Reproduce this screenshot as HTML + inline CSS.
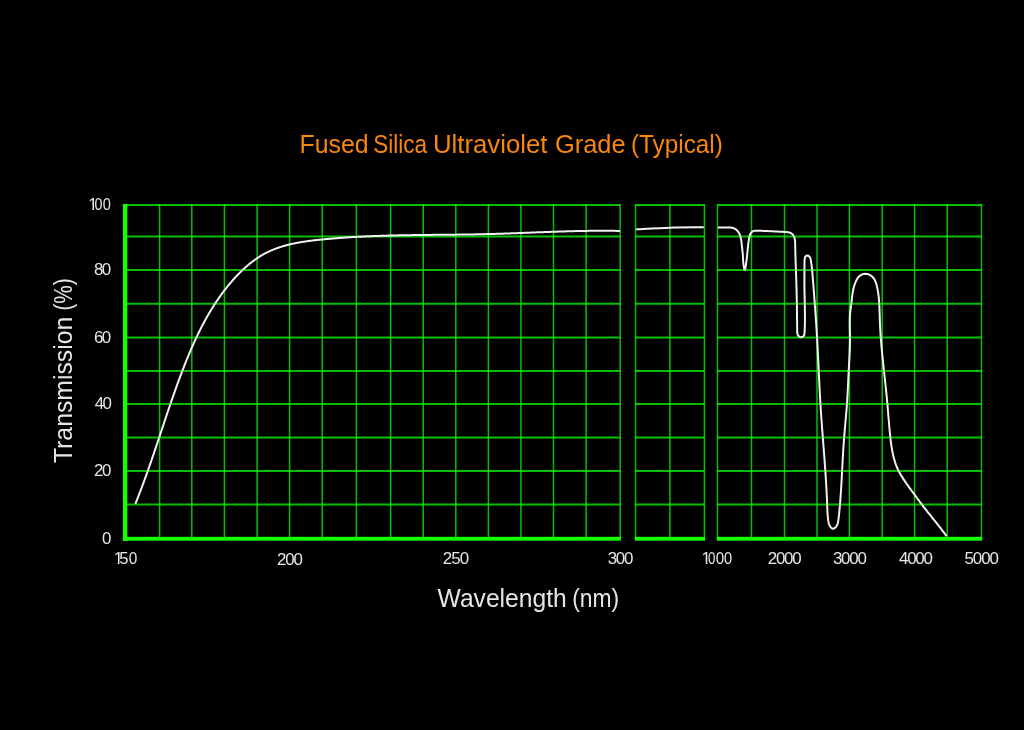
<!DOCTYPE html>
<html><head><meta charset="utf-8"><title>Fused Silica Ultraviolet Grade (Typical)</title>
<style>
html,body{margin:0;padding:0;background:#000;}
body{width:1024px;height:730px;overflow:hidden;}
svg{display:block;will-change:transform;}
text{font-family:"Liberation Sans",sans-serif;}
</style></head><body>
<svg width="1024" height="730" viewBox="0 0 1024 730">
<rect width="1024" height="730" fill="#000"/>
<path d="M125.10,204.90H620.20M125.10,236.60H620.20M125.10,270.10H620.20M125.10,303.70H620.20M125.10,337.40H620.20M125.10,370.90H620.20M125.10,403.90H620.20M125.10,437.40H620.20M125.10,471.00H620.20M125.10,504.50H620.20M635.50,204.90H704.40M635.50,236.60H704.40M635.50,270.10H704.40M635.50,303.70H704.40M635.50,337.40H704.40M635.50,370.90H704.40M635.50,403.90H704.40M635.50,437.40H704.40M635.50,471.00H704.40M635.50,504.50H704.40M717.50,204.90H981.50M717.50,236.60H981.50M717.50,270.10H981.50M717.50,303.70H981.50M717.50,337.40H981.50M717.50,370.90H981.50M717.50,403.90H981.50M717.50,437.40H981.50M717.50,471.00H981.50M717.50,504.50H981.50" stroke="#0aff00" stroke-opacity="0.75" stroke-width="2.00" fill="none"/>
<path d="M159.60,203.90V537.80M191.80,203.90V537.80M224.40,203.90V537.80M257.10,203.90V537.80M289.60,203.90V537.80M322.30,203.90V537.80M356.40,203.90V537.80M390.60,203.90V537.80M423.20,203.90V537.80M455.80,203.90V537.80M488.40,203.90V537.80M520.90,203.90V537.80M553.50,203.90V537.80M586.10,203.90V537.80M620.20,203.90V537.80M635.50,203.90V537.80M669.90,203.90V537.80M704.40,203.90V537.80M717.50,203.90V537.80M751.50,203.90V537.80M784.50,203.90V537.80M817.00,203.90V537.80M849.40,203.90V537.80M882.20,203.90V537.80M914.60,203.90V537.80M947.20,203.90V537.80M981.50,203.90V537.80" stroke="#0aff00" stroke-opacity="0.75" stroke-width="1.50" fill="none"/>
<rect x="122.9" y="203.9" width="4.4" height="336.8" fill="#16ff00"/>
<rect x="122.9" y="536.8" width="498.0" height="3.9" fill="#16ff00"/>
<rect x="634.8" y="536.8" width="70.3" height="3.9" fill="#16ff00"/>
<rect x="716.8" y="536.8" width="265.4" height="3.9" fill="#16ff00"/>
<path d="M135.34,503.92 135.71,502.99 136.09,502.05 136.46,501.12 136.83,500.19 137.20,499.26 137.57,498.32 137.94,497.39 138.31,496.45 138.67,495.52 139.03,494.58 139.40,493.65 139.76,492.71 140.12,491.77 140.47,490.84 140.83,489.90 141.18,488.96 141.54,488.03 141.89,487.09 142.24,486.15 142.59,485.21 142.94,484.27 143.29,483.33 143.64,482.39 143.98,481.45 144.33,480.51 144.67,479.57 145.01,478.63 145.35,477.69 145.69,476.75 146.03,475.81 146.37,474.87 146.71,473.93 147.04,472.99 147.38,472.04 147.71,471.10 148.05,470.16 148.38,469.22 148.71,468.27 149.04,467.33 149.37,466.39 149.70,465.44 150.03,464.50 150.36,463.55 150.68,462.61 151.01,461.67 151.34,460.72 151.66,459.78 151.99,458.83 152.31,457.89 152.63,456.94 152.96,456.00 153.28,455.05 153.60,454.11 153.92,453.16 154.24,452.21 154.56,451.27 154.88,450.32 155.20,449.38 155.52,448.43 155.84,447.48 156.16,446.54 156.47,445.59 156.79,444.65 157.11,443.70 157.42,442.75 157.74,441.81 158.06,440.86 158.37,439.91 158.69,438.97 159.01,438.02 159.32,437.07 159.64,436.13 159.95,435.18 160.27,434.23 160.58,433.29 160.90,432.34 161.21,431.39 161.53,430.45 161.84,429.50 162.16,428.55 162.47,427.61 162.79,426.66 163.10,425.71 163.42,424.77 163.73,423.82 164.05,422.87 164.37,421.93 164.68,420.98 165.00,420.03 165.31,419.09 165.63,418.14 165.95,417.20 166.27,416.25 166.58,415.30 166.90,414.36 167.22,413.41 167.54,412.47 167.86,411.52 168.18,410.58 168.50,409.63 168.82,408.69 169.14,407.74 169.46,406.80 169.78,405.85 170.10,404.91 170.43,403.97 170.75,403.02 171.08,402.08 171.40,401.13 171.73,400.19 172.05,399.25 172.38,398.31 172.71,397.36 173.04,396.42 173.37,395.48 173.70,394.54 174.03,393.59 174.36,392.65 174.69,391.71 175.02,390.77 175.36,389.83 175.69,388.89 176.03,387.95 176.37,387.01 176.70,386.07 177.04,385.13 177.38,384.19 177.72,383.25 178.07,382.31 178.41,381.37 178.75,380.44 179.10,379.50 179.44,378.56 179.79,377.62 180.14,376.69 180.49,375.75 180.84,374.81 181.19,373.88 181.55,372.94 181.90,372.01 182.26,371.07 182.62,370.14 182.98,369.21 183.34,368.27 183.70,367.34 184.06,366.41 184.43,365.47 184.79,364.54 185.16,363.61 185.53,362.68 185.90,361.75 186.27,360.82 186.65,359.89 187.02,358.97 187.40,358.04 187.78,357.11 188.16,356.19 188.54,355.26 188.93,354.34 189.31,353.41 189.70,352.49 190.09,351.57 190.49,350.65 190.88,349.73 191.28,348.81 191.68,347.89 192.08,346.98 192.48,346.06 192.89,345.14 193.29,344.23 193.70,343.32 194.11,342.41 194.53,341.50 194.95,340.59 195.36,339.68 195.79,338.77 196.21,337.86 196.64,336.96 197.06,336.06 197.50,335.16 197.93,334.25 198.37,333.36 198.81,332.46 199.25,331.56 199.69,330.67 200.14,329.77 200.59,328.88 201.04,327.99 201.50,327.10 201.96,326.21 202.42,325.33 202.88,324.44 203.35,323.56 203.82,322.68 204.29,321.80 204.77,320.92 205.25,320.05 205.73,319.17 206.22,318.30 206.70,317.43 207.20,316.56 207.69,315.69 208.19,314.83 208.69,313.96 209.20,313.10 209.71,312.24 210.22,311.39 210.73,310.53 211.25,309.68 211.77,308.83 212.30,307.98 212.83,307.13 213.36,306.29 213.90,305.44 214.44,304.60 214.98,303.76 215.53,302.93 216.08,302.09 216.64,301.26 217.19,300.43 217.76,299.60 218.32,298.78 218.89,297.96 219.47,297.14 220.05,296.32 220.63,295.50 221.22,294.69 221.81,293.88 222.40,293.07 223.00,292.27 223.60,291.47 224.21,290.67 224.82,289.87 225.44,289.07 226.06,288.28 226.68,287.49 227.31,286.70 227.94,285.92 228.58,285.14 229.22,284.36 229.87,283.59 230.52,282.81 231.18,282.04 231.83,281.28 232.50,280.51 233.17,279.75 233.84,279.00 234.52,278.25 235.20,277.50 235.89,276.76 236.58,276.02 237.28,275.28 237.98,274.55 238.68,273.83 239.39,273.11 240.11,272.39 240.83,271.68 241.55,270.98 242.28,270.28 243.01,269.59 243.75,268.90 244.49,268.22 245.24,267.55 245.99,266.88 246.75,266.22 247.51,265.57 248.27,264.92 249.04,264.28 249.82,263.65 250.60,263.03 251.38,262.41 252.17,261.80 252.96,261.20 253.76,260.61 254.57,260.02 255.37,259.45 256.19,258.88 257.00,258.32 257.83,257.77 258.65,257.23 259.48,256.70 260.32,256.18 261.16,255.66 262.01,255.16 262.86,254.67 263.71,254.18 264.57,253.71 265.44,253.25 266.31,252.80 267.18,252.36 268.06,251.93 268.95,251.50 269.84,251.09 270.73,250.69 271.63,250.30 272.53,249.92 273.43,249.55 274.34,249.18 275.26,248.83 276.18,248.48 277.10,248.15 278.02,247.82 278.95,247.50 279.88,247.19 280.82,246.89 281.76,246.59 282.70,246.31 283.65,246.03 284.60,245.75 285.55,245.49 286.50,245.23 287.46,244.98 288.42,244.74 289.39,244.50 290.35,244.27 291.32,244.05 292.29,243.83 293.26,243.62 294.24,243.42 295.22,243.22 296.20,243.02 297.18,242.83 298.16,242.65 299.15,242.47 300.14,242.30 301.13,242.13 302.12,241.97 303.11,241.81 304.11,241.66 305.10,241.51 306.10,241.37 307.10,241.22 308.09,241.09 309.09,240.95 310.10,240.82 311.10,240.70 312.10,240.57 313.10,240.45 314.11,240.33 315.11,240.22 316.12,240.11 317.12,240.00 318.13,239.89 319.13,239.78 320.14,239.68 321.14,239.58 322.15,239.48 323.15,239.38 324.16,239.28 325.16,239.18 326.17,239.09 327.17,239.00 328.18,238.91 329.18,238.82 330.19,238.73 331.19,238.64 332.20,238.56 333.20,238.47 334.20,238.39 335.21,238.31 336.21,238.23 337.21,238.15 338.22,238.07 339.22,238.00 340.22,237.92 341.23,237.85 342.23,237.77 343.23,237.70 344.23,237.63 345.24,237.57 346.24,237.50 347.24,237.43 348.24,237.37 349.24,237.30 350.25,237.24 351.25,237.18 352.25,237.12 353.25,237.06 354.25,237.00 355.25,236.95 356.25,236.89 357.25,236.84 358.25,236.78 359.26,236.73 360.26,236.68 361.26,236.63 362.26,236.58 363.26,236.53 364.26,236.48 365.26,236.44 366.26,236.39 367.26,236.35 368.26,236.30 369.26,236.26 370.26,236.22 371.26,236.18 372.26,236.14 373.26,236.10 374.25,236.06 375.25,236.02 376.25,235.99 377.25,235.95 378.25,235.92 379.25,235.88 380.25,235.85 381.25,235.82 382.25,235.79 383.24,235.76 384.24,235.72 385.24,235.70 386.24,235.67 387.24,235.64 388.24,235.61 389.24,235.58 390.23,235.56 391.23,235.53 392.23,235.51 393.23,235.48 394.23,235.46 395.22,235.44 396.22,235.41 397.22,235.39 398.22,235.37 399.21,235.35 400.21,235.33 401.21,235.31 402.21,235.29 403.20,235.27 404.20,235.25 405.20,235.24 406.20,235.22 407.19,235.20 408.19,235.19 409.19,235.17 410.19,235.15 411.18,235.14 412.18,235.12 413.18,235.11 414.18,235.09 415.17,235.08 416.17,235.07 417.17,235.05 418.16,235.04 419.16,235.03 420.16,235.02 421.15,235.00 422.15,234.99 423.15,234.98 424.15,234.97 425.14,234.96 426.14,234.95 427.14,234.93 428.13,234.92 429.13,234.91 430.13,234.90 431.12,234.89 432.12,234.88 433.12,234.87 434.11,234.86 435.11,234.85 436.11,234.84 437.11,234.83 438.10,234.82 439.10,234.81 440.10,234.80 441.09,234.79 442.09,234.78 443.09,234.77 444.08,234.76 445.08,234.75 446.08,234.74 447.08,234.73 448.07,234.72 449.07,234.71 450.07,234.70 451.06,234.69 452.06,234.68 453.06,234.67 454.06,234.66 455.05,234.64 456.05,234.63 457.05,234.62 458.05,234.61 459.04,234.60 460.04,234.58 461.04,234.57 462.04,234.56 463.03,234.55 464.03,234.53 465.03,234.52 466.03,234.50 467.02,234.49 468.02,234.47 469.02,234.46 470.02,234.44 471.02,234.43 472.01,234.41 473.01,234.39 474.01,234.38 475.01,234.36 476.01,234.34 477.01,234.32 478.00,234.30 479.00,234.28 480.00,234.26 481.00,234.24 482.00,234.22 483.00,234.20 484.00,234.17 485.00,234.15 485.99,234.13 486.99,234.10 487.99,234.08 488.99,234.05 489.99,234.03 490.99,234.00 491.99,233.97 492.99,233.95 493.99,233.92 494.99,233.89 495.99,233.86 496.99,233.83 497.99,233.80 498.99,233.77 499.99,233.73 500.99,233.70 501.99,233.67 502.99,233.64 503.99,233.60 504.99,233.57 505.99,233.54 506.99,233.50 507.99,233.47 508.99,233.43 509.99,233.40 510.99,233.36 511.99,233.32 513.00,233.29 514.00,233.25 515.00,233.21 516.00,233.18 517.00,233.14 518.00,233.10 519.00,233.06 520.00,233.02 521.00,232.99 522.00,232.95 523.01,232.91 524.01,232.87 525.01,232.83 526.01,232.79 527.01,232.75 528.01,232.72 529.01,232.68 530.01,232.64 531.02,232.60 532.02,232.56 533.02,232.52 534.02,232.48 535.02,232.44 536.02,232.40 537.02,232.37 538.02,232.33 539.03,232.29 540.03,232.25 541.03,232.21 542.03,232.17 543.03,232.14 544.03,232.10 545.03,232.06 546.04,232.02 547.04,231.99 548.04,231.95 549.04,231.91 550.04,231.88 551.04,231.84 552.04,231.81 553.04,231.77 554.04,231.74 555.05,231.70 556.05,231.67 557.05,231.63 558.05,231.60 559.05,231.57 560.05,231.53 561.05,231.50 562.05,231.47 563.05,231.44 564.05,231.41 565.05,231.38 566.06,231.35 567.06,231.32 568.06,231.29 569.06,231.26 570.06,231.24 571.06,231.21 572.06,231.18 573.06,231.16 574.06,231.13 575.06,231.11 576.06,231.09 577.06,231.06 578.06,231.04 579.06,231.02 580.06,231.00 581.06,230.98 582.06,230.96 583.06,230.94 584.06,230.92 585.06,230.91 586.06,230.89 587.06,230.88 588.06,230.86 589.06,230.85 590.05,230.84 591.05,230.82 592.05,230.81 593.05,230.80 594.05,230.80 595.05,230.79 596.05,230.78 597.05,230.78 598.04,230.77 599.04,230.77 600.04,230.76 601.04,230.76 602.04,230.76 603.03,230.76 604.03,230.77 605.03,230.77 606.03,230.77 607.02,230.78 608.02,230.78 609.02,230.79 610.02,230.80 611.01,230.81 612.01,230.82 613.01,230.83 614.00,230.85 615.00,230.86 616.00,230.88 616.99,230.90 617.99,230.91 618.98,230.93 619.98,230.96" stroke="#f2f2f2" stroke-width="2" fill="none" stroke-linejoin="round"/>
<path d="M636.10,229.30 C641.72,229.03 658.52,227.99 669.80,227.66 C681.08,227.33 698.13,227.36 703.80,227.30" stroke="#f2f2f2" stroke-width="2" fill="none" stroke-linejoin="round"/>
<path d="M718.00,227.50 719.03,227.56 720.05,227.59 721.05,227.60 722.04,227.58 723.03,227.54 724.00,227.50 724.98,227.46 725.96,227.42 726.94,227.40 727.93,227.40 728.94,227.43 729.96,227.50 730.99,227.60 732.02,227.76 733.03,228.00 733.99,228.33 734.89,228.75 735.72,229.27 736.48,229.88 737.18,230.56 737.82,231.30 738.40,232.11 738.93,232.97 739.40,233.86 739.81,234.79 740.18,235.74 740.49,236.71 740.75,237.68 740.97,238.66 741.16,239.64 741.31,240.62 741.44,241.60 741.55,242.59 741.65,243.59 741.75,244.59 741.86,245.60 741.97,246.62 742.08,247.65 742.19,248.67 742.30,249.69 742.41,250.71 742.52,251.72 742.62,252.71 742.71,253.69 742.79,254.65 742.86,255.59 742.92,256.50 742.97,257.39 743.00,258.28 743.04,259.17 743.09,260.09 743.15,261.06 743.23,262.07 743.34,263.16 743.48,264.34 743.66,265.62 743.88,266.96 744.13,268.20 744.39,269.20 744.66,269.78 744.92,269.81 745.17,269.26 745.40,268.29 745.62,267.06 745.82,265.72 746.00,264.43 746.16,263.24 746.31,262.14 746.44,261.12 746.57,260.15 746.68,259.22 746.79,258.33 746.89,257.44 746.98,256.56 747.07,255.66 747.17,254.73 747.26,253.79 747.35,252.83 747.44,251.85 747.54,250.86 747.64,249.86 747.74,248.85 747.84,247.83 747.95,246.81 748.06,245.78 748.19,244.75 748.31,243.73 748.45,242.70 748.59,241.68 748.74,240.67 748.90,239.67 749.08,238.68 749.26,237.70 749.46,236.73 749.68,235.79 749.97,234.87 750.34,233.97 750.84,233.11 751.49,232.29 752.26,231.60 753.13,231.12 754.09,230.85 755.08,230.73 756.09,230.69 757.10,230.69 758.11,230.71 759.11,230.74 760.11,230.77 761.11,230.81 762.11,230.84 763.11,230.88 764.11,230.92 765.11,230.96 766.10,231.01 767.10,231.05 768.10,231.10 769.09,231.15 770.09,231.20 771.08,231.25 772.08,231.30 773.07,231.35 774.07,231.41 775.06,231.46 776.06,231.51 777.06,231.56 778.06,231.62 779.06,231.67 780.06,231.72 781.06,231.77 782.07,231.82 783.07,231.87 784.08,231.92 785.09,231.97 786.09,232.03 787.09,232.12 788.08,232.26 789.04,232.47 789.98,232.77 790.89,233.18 791.74,233.71 792.50,234.36 793.14,235.12 793.66,235.97 794.09,236.89 794.43,237.85 794.69,238.84 794.88,239.83 795.01,240.82 795.10,241.81 795.15,242.81 795.18,243.80 795.20,244.80 795.22,245.80 795.23,246.79 795.25,247.79 795.27,248.79 795.29,249.79 795.32,250.78 795.34,251.78 795.37,252.78 795.39,253.78 795.42,254.78 795.45,255.78 795.48,256.78 795.51,257.78 795.54,258.78 795.57,259.78 795.60,260.78 795.63,261.78 795.67,262.78 795.70,263.78 795.73,264.78 795.77,265.78 795.80,266.78 795.84,267.79 795.87,268.79 795.91,269.79 795.95,270.79 795.98,271.79 796.02,272.79 796.05,273.79 796.09,274.79 796.12,275.79 796.16,276.79 796.19,277.79 796.22,278.79 796.26,279.79 796.29,280.79 796.32,281.79 796.35,282.79 796.39,283.79 796.42,284.79 796.45,285.79 796.47,286.79 796.50,287.78 796.53,288.78 796.56,289.78 796.58,290.78 796.61,291.78 796.63,292.77 796.65,293.77 796.68,294.77 796.70,295.76 796.72,296.76 796.74,297.76 796.76,298.76 796.78,299.75 796.80,300.75 796.82,301.75 796.84,302.74 796.85,303.74 796.87,304.74 796.89,305.74 796.90,306.73 796.92,307.73 796.93,308.73 796.95,309.73 796.96,310.73 796.98,311.73 796.99,312.73 797.00,313.73 797.02,314.73 797.03,315.73 797.04,316.73 797.05,317.73 797.06,318.73 797.08,319.73 797.09,320.74 797.10,321.74 797.11,322.74 797.12,323.75 797.13,324.75 797.14,325.76 797.15,326.76 797.16,327.77 797.17,328.78 797.18,329.79 797.19,330.80 797.20,331.80 797.25,332.80 797.40,333.77 797.69,334.71 798.18,335.58 798.89,336.37 799.79,336.94 800.80,337.20 801.87,337.06 802.86,336.60 803.65,335.91 804.14,335.07 804.40,334.12 804.51,333.12 804.57,332.10 804.63,331.08 804.68,330.06 804.72,329.05 804.76,328.04 804.79,327.02 804.83,326.01 804.85,325.01 804.88,324.00 804.90,323.00 804.91,321.99 804.93,320.99 804.94,319.99 804.94,319.00 804.95,318.00 804.95,317.00 804.95,316.01 804.94,315.01 804.94,314.02 804.93,313.03 804.92,312.03 804.91,311.04 804.89,310.05 804.88,309.06 804.86,308.07 804.84,307.08 804.82,306.09 804.80,305.09 804.78,304.10 804.76,303.11 804.74,302.12 804.71,301.13 804.69,300.14 804.67,299.14 804.64,298.15 804.62,297.15 804.60,296.16 804.58,295.16 804.56,294.17 804.54,293.17 804.52,292.17 804.50,291.16 804.48,290.16 804.46,289.16 804.45,288.15 804.44,287.14 804.43,286.13 804.42,285.12 804.41,284.11 804.41,283.09 804.41,282.08 804.41,281.06 804.41,280.05 804.41,279.03 804.41,278.02 804.41,277.02 804.42,276.01 804.43,275.01 804.43,274.02 804.44,273.03 804.44,272.05 804.45,271.08 804.46,270.11 804.46,269.15 804.47,268.20 804.47,267.25 804.48,266.28 804.49,265.30 804.50,264.31 804.52,263.28 804.54,262.23 804.56,261.14 804.59,260.01 804.68,258.90 804.88,257.85 805.23,256.93 805.78,256.18 806.57,255.68 807.48,255.54 808.42,255.83 809.25,256.44 809.88,257.24 810.31,258.14 810.60,259.13 810.80,260.15 810.97,261.17 811.13,262.19 811.28,263.19 811.42,264.19 811.55,265.18 811.67,266.17 811.79,267.15 811.89,268.14 812.00,269.12 812.10,270.10 812.19,271.09 812.29,272.07 812.38,273.06 812.47,274.05 812.55,275.05 812.64,276.04 812.72,277.03 812.80,278.03 812.88,279.03 812.96,280.02 813.04,281.02 813.12,282.02 813.19,283.02 813.27,284.02 813.34,285.01 813.42,286.01 813.50,287.01 813.57,288.01 813.65,289.01 813.73,290.01 813.80,291.01 813.88,292.00 813.95,293.00 814.03,294.00 814.11,295.00 814.18,296.00 814.26,296.99 814.33,297.99 814.41,298.99 814.48,299.99 814.56,300.98 814.63,301.98 814.71,302.98 814.78,303.98 814.86,304.97 814.93,305.97 815.01,306.97 815.08,307.96 815.15,308.96 815.22,309.96 815.30,310.96 815.37,311.95 815.44,312.95 815.51,313.95 815.58,314.94 815.65,315.94 815.73,316.94 815.79,317.94 815.86,318.93 815.93,319.93 816.00,320.93 816.07,321.92 816.14,322.92 816.20,323.92 816.27,324.92 816.34,325.91 816.40,326.91 816.47,327.91 816.53,328.90 816.59,329.90 816.66,330.90 816.72,331.90 816.78,332.89 816.84,333.89 816.90,334.89 816.96,335.89 817.02,336.88 817.08,337.88 817.14,338.88 817.19,339.88 817.25,340.88 817.30,341.87 817.36,342.87 817.41,343.87 817.46,344.87 817.52,345.87 817.57,346.86 817.62,347.86 817.67,348.86 817.72,349.86 817.77,350.86 817.82,351.86 817.87,352.86 817.92,353.85 817.97,354.85 818.02,355.85 818.07,356.85 818.12,357.85 818.16,358.85 818.21,359.85 818.26,360.84 818.31,361.84 818.35,362.84 818.40,363.84 818.45,364.84 818.49,365.84 818.54,366.84 818.59,367.84 818.63,368.84 818.68,369.83 818.73,370.83 818.77,371.83 818.82,372.83 818.86,373.83 818.91,374.83 818.96,375.83 819.01,376.83 819.05,377.83 819.10,378.83 819.15,379.82 819.20,380.82 819.24,381.82 819.29,382.82 819.34,383.82 819.39,384.82 819.44,385.82 819.49,386.82 819.54,387.81 819.59,388.81 819.64,389.81 819.70,390.81 819.75,391.81 819.80,392.81 819.85,393.81 819.91,394.80 819.96,395.80 820.02,396.80 820.08,397.80 820.13,398.80 820.19,399.80 820.25,400.79 820.31,401.79 820.37,402.79 820.43,403.79 820.49,404.79 820.55,405.78 820.61,406.78 820.68,407.78 820.74,408.78 820.81,409.77 820.87,410.77 820.94,411.77 821.01,412.77 821.07,413.76 821.14,414.76 821.21,415.76 821.28,416.76 821.35,417.75 821.42,418.75 821.49,419.75 821.57,420.75 821.64,421.74 821.71,422.74 821.78,423.74 821.86,424.73 821.93,425.73 822.01,426.73 822.08,427.72 822.16,428.72 822.23,429.72 822.31,430.72 822.38,431.71 822.46,432.71 822.53,433.71 822.61,434.70 822.69,435.70 822.76,436.70 822.84,437.69 822.92,438.69 822.99,439.69 823.07,440.68 823.15,441.68 823.22,442.68 823.30,443.67 823.38,444.67 823.46,445.67 823.53,446.66 823.61,447.66 823.69,448.66 823.76,449.65 823.84,450.65 823.92,451.65 823.99,452.64 824.07,453.64 824.14,454.64 824.22,455.64 824.29,456.63 824.37,457.63 824.44,458.63 824.52,459.62 824.59,460.62 824.66,461.62 824.74,462.61 824.81,463.61 824.88,464.61 824.95,465.61 825.03,466.60 825.10,467.60 825.17,468.60 825.24,469.59 825.30,470.59 825.37,471.59 825.44,472.59 825.51,473.58 825.57,474.58 825.64,475.58 825.70,476.58 825.77,477.58 825.83,478.57 825.89,479.57 825.96,480.57 826.02,481.57 826.08,482.57 826.14,483.56 826.20,484.56 826.25,485.56 826.31,486.56 826.37,487.56 826.42,488.56 826.48,489.55 826.53,490.55 826.58,491.55 826.63,492.55 826.68,493.55 826.73,494.55 826.78,495.55 826.82,496.55 826.87,497.55 826.91,498.55 826.96,499.55 827.00,500.54 827.04,501.54 827.08,502.54 827.11,503.54 827.15,504.54 827.19,505.54 827.22,506.54 827.26,507.54 827.30,508.54 827.34,509.54 827.38,510.54 827.43,511.54 827.49,512.54 827.55,513.54 827.62,514.53 827.70,515.53 827.78,516.52 827.88,517.52 827.99,518.51 828.12,519.50 828.25,520.49 828.41,521.48 828.60,522.46 828.84,523.43 829.15,524.40 829.55,525.34 830.05,526.26 830.68,527.15 831.41,527.93 832.22,528.47 833.10,528.67 834.00,528.46 834.88,527.91 835.70,527.14 836.40,526.26 836.95,525.35 837.38,524.42 837.70,523.47 837.94,522.51 838.12,521.55 838.27,520.57 838.40,519.59 838.53,518.61 838.66,517.63 838.78,516.64 838.90,515.65 839.01,514.66 839.12,513.67 839.23,512.68 839.33,511.68 839.43,510.69 839.52,509.69 839.62,508.69 839.71,507.69 839.80,506.70 839.88,505.70 839.97,504.70 840.05,503.70 840.13,502.70 840.21,501.70 840.29,500.70 840.36,499.70 840.44,498.70 840.51,497.70 840.58,496.70 840.65,495.70 840.72,494.70 840.79,493.71 840.86,492.71 840.92,491.71 840.99,490.71 841.05,489.71 841.11,488.71 841.17,487.71 841.23,486.71 841.29,485.72 841.35,484.72 841.41,483.72 841.47,482.72 841.52,481.72 841.58,480.72 841.63,479.72 841.69,478.73 841.74,477.73 841.80,476.73 841.85,475.73 841.90,474.73 841.96,473.73 842.01,472.74 842.06,471.74 842.11,470.74 842.17,469.74 842.22,468.74 842.27,467.75 842.32,466.75 842.38,465.75 842.43,464.75 842.48,463.75 842.54,462.76 842.59,461.76 842.64,460.76 842.70,459.76 842.75,458.77 842.81,457.77 842.86,456.77 842.92,455.77 842.98,454.78 843.04,453.78 843.09,452.78 843.15,451.78 843.21,450.79 843.28,449.79 843.34,448.79 843.40,447.80 843.47,446.80 843.53,445.80 843.60,444.80 843.67,443.81 843.73,442.81 843.81,441.81 843.88,440.82 843.95,439.82 844.03,438.82 844.10,437.83 844.18,436.83 844.26,435.83 844.34,434.84 844.42,433.84 844.51,432.84 844.59,431.85 844.68,430.85 844.76,429.86 844.85,428.86 844.94,427.86 845.03,426.87 845.11,425.87 845.20,424.87 845.29,423.88 845.38,422.88 845.47,421.89 845.56,420.89 845.65,419.89 845.74,418.90 845.83,417.90 845.92,416.90 846.01,415.91 846.09,414.91 846.18,413.91 846.26,412.92 846.35,411.92 846.43,410.92 846.51,409.93 846.59,408.93 846.67,407.93 846.75,406.93 846.82,405.94 846.89,404.94 846.97,403.94 847.03,402.94 847.10,401.95 847.17,400.95 847.23,399.95 847.29,398.95 847.35,397.96 847.41,396.96 847.47,395.96 847.52,394.96 847.58,393.96 847.63,392.96 847.68,391.97 847.73,390.97 847.78,389.97 847.83,388.97 847.88,387.97 847.93,386.97 847.98,385.97 848.02,384.98 848.07,383.98 848.12,382.98 848.16,381.98 848.21,380.98 848.26,379.98 848.30,378.98 848.35,377.99 848.40,376.99 848.44,375.99 848.49,374.99 848.54,373.99 848.59,372.99 848.64,372.00 848.69,371.00 848.74,370.00 848.80,369.00 848.85,368.00 848.90,367.01 848.96,366.01 849.01,365.01 849.07,364.01 849.12,363.01 849.18,362.02 849.23,361.02 849.28,360.02 849.34,359.02 849.39,358.02 849.44,357.02 849.49,356.03 849.54,355.03 849.59,354.03 849.63,353.03 849.67,352.03 849.72,351.03 849.76,350.03 849.79,349.03 849.83,348.03 849.86,347.03 849.89,346.04 849.91,345.03 849.94,344.03 849.96,343.03 849.97,342.03 849.98,341.03 849.99,340.03 850.00,339.03 850.00,338.03 850.00,337.03 849.99,336.02 849.98,335.02 849.96,334.02 849.95,333.02 849.93,332.01 849.91,331.01 849.89,330.01 849.88,329.00 849.86,328.00 849.84,327.00 849.83,326.00 849.82,324.99 849.81,323.99 849.81,322.99 849.81,321.99 849.82,320.99 849.84,319.99 849.86,318.99 849.89,317.99 849.92,316.99 849.97,316.00 850.02,315.00 850.09,314.00 850.16,313.01 850.25,312.02 850.35,311.02 850.46,310.03 850.59,309.04 850.72,308.05 850.86,307.06 851.01,306.07 851.15,305.08 851.28,304.09 851.41,303.10 851.52,302.10 851.63,301.10 851.74,300.11 851.84,299.11 851.95,298.11 852.05,297.12 852.17,296.12 852.28,295.13 852.41,294.14 852.56,293.16 852.71,292.17 852.89,291.20 853.08,290.23 853.29,289.26 853.53,288.29 853.78,287.33 854.06,286.37 854.35,285.41 854.67,284.45 855.02,283.49 855.39,282.53 855.79,281.58 856.22,280.64 856.69,279.73 857.20,278.85 857.75,278.02 858.35,277.23 859.01,276.51 859.72,275.85 860.49,275.28 861.32,274.79 862.22,274.39 863.20,274.10 864.22,273.92 865.27,273.85 866.31,273.90 867.32,274.06 868.29,274.33 869.23,274.70 870.13,275.16 870.98,275.70 871.78,276.31 872.53,277.00 873.21,277.74 873.83,278.52 874.38,279.36 874.86,280.22 875.29,281.12 875.66,282.05 876.00,282.99 876.29,283.95 876.56,284.93 876.81,285.90 877.04,286.88 877.26,287.86 877.47,288.84 877.66,289.82 877.84,290.81 878.01,291.79 878.16,292.78 878.31,293.77 878.44,294.76 878.57,295.75 878.68,296.74 878.79,297.73 878.88,298.73 878.97,299.72 879.05,300.71 879.13,301.71 879.19,302.71 879.26,303.70 879.31,304.70 879.36,305.70 879.41,306.70 879.45,307.70 879.49,308.70 879.52,309.70 879.56,310.70 879.59,311.70 879.61,312.70 879.64,313.70 879.67,314.70 879.70,315.70 879.72,316.71 879.75,317.71 879.78,318.71 879.81,319.71 879.84,320.71 879.88,321.71 879.92,322.71 879.96,323.71 880.01,324.71 880.05,325.71 880.10,326.71 880.15,327.71 880.21,328.70 880.26,329.70 880.32,330.70 880.38,331.70 880.44,332.70 880.51,333.69 880.57,334.69 880.64,335.69 880.71,336.69 880.79,337.68 880.86,338.68 880.94,339.68 881.01,340.67 881.09,341.67 881.18,342.66 881.26,343.66 881.34,344.66 881.43,345.65 881.52,346.65 881.60,347.64 881.69,348.64 881.79,349.63 881.88,350.63 881.97,351.62 882.07,352.62 882.16,353.61 882.26,354.61 882.36,355.60 882.46,356.60 882.56,357.59 882.66,358.59 882.76,359.58 882.86,360.57 882.97,361.57 883.07,362.56 883.18,363.56 883.28,364.55 883.39,365.54 883.49,366.54 883.60,367.53 883.71,368.53 883.82,369.52 883.92,370.51 884.03,371.51 884.14,372.50 884.25,373.50 884.36,374.49 884.47,375.48 884.57,376.48 884.68,377.47 884.79,378.47 884.90,379.46 885.01,380.45 885.12,381.45 885.22,382.44 885.33,383.44 885.44,384.43 885.54,385.42 885.65,386.42 885.76,387.41 885.86,388.41 885.97,389.40 886.07,390.40 886.17,391.39 886.27,392.39 886.38,393.38 886.48,394.38 886.58,395.37 886.67,396.37 886.77,397.36 886.87,398.36 886.96,399.36 887.06,400.35 887.15,401.35 887.24,402.34 887.33,403.34 887.42,404.34 887.51,405.33 887.60,406.33 887.68,407.33 887.77,408.32 887.85,409.32 887.93,410.32 888.02,411.32 888.10,412.31 888.18,413.31 888.26,414.31 888.34,415.30 888.42,416.30 888.51,417.30 888.59,418.30 888.67,419.29 888.75,420.29 888.83,421.29 888.92,422.28 889.00,423.28 889.09,424.28 889.17,425.27 889.26,426.27 889.35,427.26 889.44,428.26 889.53,429.25 889.62,430.25 889.72,431.24 889.81,432.23 889.91,433.23 890.01,434.22 890.11,435.21 890.22,436.21 890.33,437.20 890.44,438.19 890.55,439.18 890.67,440.17 890.79,441.16 890.91,442.15 891.04,443.14 891.18,444.13 891.32,445.12 891.46,446.10 891.61,447.09 891.77,448.08 891.94,449.07 892.11,450.05 892.30,451.04 892.49,452.03 892.69,453.01 892.89,453.99 893.11,454.97 893.34,455.95 893.58,456.93 893.83,457.90 894.09,458.87 894.36,459.83 894.65,460.80 894.94,461.75 895.25,462.71 895.58,463.65 895.91,464.60 896.26,465.53 896.63,466.46 897.01,467.39 897.40,468.30 897.81,469.21 898.24,470.11 898.68,471.01 899.14,471.89 899.61,472.77 900.09,473.64 900.59,474.51 901.10,475.37 901.62,476.22 902.15,477.07 902.69,477.91 903.23,478.75 903.78,479.59 904.33,480.42 904.89,481.25 905.45,482.08 906.02,482.90 906.59,483.72 907.17,484.54 907.75,485.36 908.33,486.17 908.91,486.98 909.50,487.79 910.09,488.60 910.68,489.41 911.27,490.22 911.86,491.02 912.46,491.83 913.05,492.64 913.65,493.44 914.24,494.25 914.83,495.05 915.42,495.86 916.02,496.66 916.61,497.47 917.20,498.27 917.79,499.08 918.39,499.88 918.98,500.69 919.58,501.49 920.17,502.29 920.77,503.09 921.37,503.89 921.98,504.68 922.58,505.48 923.19,506.27 923.81,507.06 924.42,507.85 925.04,508.64 925.65,509.42 926.27,510.21 926.89,510.99 927.52,511.77 928.14,512.55 928.76,513.34 929.39,514.12 930.02,514.90 930.64,515.68 931.27,516.46 931.90,517.23 932.52,518.01 933.15,518.79 933.78,519.57 934.41,520.35 935.03,521.13 935.66,521.91 936.28,522.69 936.91,523.48 937.53,524.26 938.15,525.04 938.77,525.83 939.38,526.62 940.00,527.40 940.61,528.19 941.22,528.99 941.83,529.78 942.44,530.57 943.04,531.37 943.64,532.17 944.24,532.97 944.84,533.77 945.43,534.58 946.02,535.39 946.60,536.20" stroke="#f2f2f2" stroke-width="2" fill="none" stroke-linejoin="round"/>
<text x="299.47" y="153.20" font-size="25.90" fill="#f7870d" text-anchor="start" textLength="69.07" lengthAdjust="spacingAndGlyphs">Fused</text>
<text x="373.28" y="153.20" font-size="25.90" fill="#f7870d" text-anchor="start" textLength="53.88" lengthAdjust="spacingAndGlyphs">Silica</text>
<text x="432.90" y="153.20" font-size="25.90" fill="#f7870d" text-anchor="start" textLength="114.64" lengthAdjust="spacingAndGlyphs">Ultraviolet</text>
<text x="554.96" y="153.20" font-size="25.90" fill="#f7870d" text-anchor="start" textLength="70.67" lengthAdjust="spacingAndGlyphs">Grade</text>
<text x="630.93" y="153.20" font-size="25.90" fill="#f7870d" text-anchor="start" textLength="91.96" lengthAdjust="spacingAndGlyphs">(Typical)</text>
<text x="88.16" y="209.71" font-size="16.90" fill="#e6e6e6">1</text>
<path d="M88.45,207.02H92.26V211.21H88.45Z M94.04,207.02H97.72V211.21H94.04Z" fill="#000"/>
<text x="94.58" y="209.71" font-size="16.90" fill="#e6e6e6" text-anchor="start" textLength="7.97" lengthAdjust="spacingAndGlyphs">0</text>
<text x="102.75" y="209.71" font-size="16.90" fill="#e6e6e6" text-anchor="start" textLength="8.11" lengthAdjust="spacingAndGlyphs">0</text>
<text x="94.04" y="274.71" font-size="16.90" fill="#e6e6e6" text-anchor="start" textLength="17.18" lengthAdjust="spacing">80</text>
<text x="94.11" y="342.51" font-size="16.90" fill="#e6e6e6" text-anchor="start" textLength="17.02" lengthAdjust="spacing">60</text>
<text x="94.65" y="408.71" font-size="16.90" fill="#e6e6e6" text-anchor="start" textLength="17.27" lengthAdjust="spacing">40</text>
<text x="93.92" y="475.91" font-size="16.90" fill="#e6e6e6" text-anchor="start" textLength="17.46" lengthAdjust="spacing">20</text>
<text x="101.94" y="544.41" font-size="16.90" fill="#e6e6e6" text-anchor="start" textLength="5.42" lengthAdjust="spacing">0</text>
<text x="113.66" y="564.21" font-size="16.90" fill="#e6e6e6">1</text>
<path d="M113.95,561.52H117.76V565.71H113.95Z M119.54,561.52H123.22V565.71H119.54Z" fill="#000"/>
<text x="119.15" y="564.21" font-size="16.90" fill="#e6e6e6" text-anchor="start" textLength="9.26" lengthAdjust="spacingAndGlyphs">5</text>
<text x="128.81" y="564.21" font-size="16.90" fill="#e6e6e6" text-anchor="start" textLength="8.56" lengthAdjust="spacingAndGlyphs">0</text>
<text x="277.05" y="564.51" font-size="16.90" fill="#e6e6e6" text-anchor="start" textLength="25.82" lengthAdjust="spacing">200</text>
<text x="442.84" y="564.21" font-size="16.90" fill="#e6e6e6" text-anchor="start" textLength="26.22" lengthAdjust="spacing">250</text>
<text x="607.68" y="564.21" font-size="16.90" fill="#e6e6e6" text-anchor="start" textLength="25.70" lengthAdjust="spacing">300</text>
<text x="701.56" y="564.21" font-size="16.90" fill="#e6e6e6">1</text>
<path d="M701.85,561.52H705.66V565.71H701.85Z M707.44,561.52H711.12V565.71H707.44Z" fill="#000"/>
<text x="707.99" y="564.21" font-size="16.90" fill="#e6e6e6" text-anchor="start" textLength="7.37" lengthAdjust="spacingAndGlyphs">0</text>
<text x="715.83" y="564.21" font-size="16.90" fill="#e6e6e6" text-anchor="start" textLength="8.43" lengthAdjust="spacingAndGlyphs">0</text>
<text x="724.04" y="564.21" font-size="16.90" fill="#e6e6e6" text-anchor="start" textLength="8.10" lengthAdjust="spacingAndGlyphs">0</text>
<text x="767.72" y="564.21" font-size="16.90" fill="#e6e6e6" text-anchor="start" textLength="33.91" lengthAdjust="spacing">2000</text>
<text x="832.92" y="564.21" font-size="16.90" fill="#e6e6e6" text-anchor="start" textLength="34.01" lengthAdjust="spacing">3000</text>
<text x="898.97" y="564.21" font-size="16.90" fill="#e6e6e6" text-anchor="start" textLength="33.95" lengthAdjust="spacing">4000</text>
<text x="964.59" y="564.21" font-size="16.90" fill="#e6e6e6" text-anchor="start" textLength="34.26" lengthAdjust="spacing">5000</text>
<text x="437.56" y="606.97" font-size="25.33" fill="#e6e6e6" text-anchor="start" textLength="129.17" lengthAdjust="spacingAndGlyphs">Wavelength</text>
<text x="572.13" y="606.97" font-size="25.33" fill="#e6e6e6" text-anchor="start" textLength="47.00" lengthAdjust="spacingAndGlyphs">(nm)</text>
<text x="-463.10" y="72.40" font-size="26.33" fill="#e6e6e6" text-anchor="start" textLength="146.34" lengthAdjust="spacingAndGlyphs" transform="rotate(-90)">Transmission</text>
<text x="-310.56" y="72.40" font-size="26.33" fill="#e6e6e6" text-anchor="start" textLength="32.33" lengthAdjust="spacingAndGlyphs" transform="rotate(-90)">(%)</text>
</svg>
</body></html>
